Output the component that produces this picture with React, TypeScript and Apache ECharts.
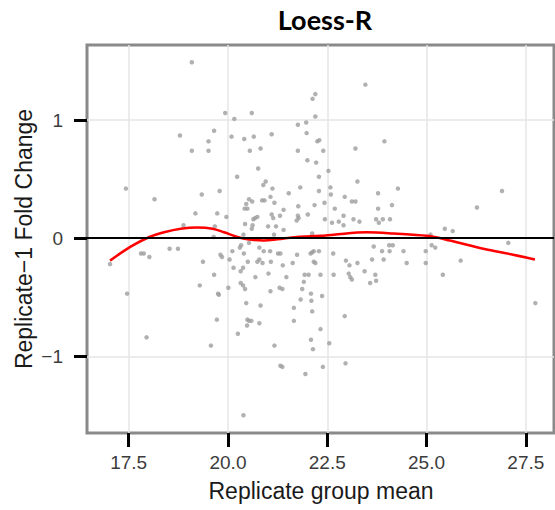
import React, { useEffect, useRef } from "react";
import * as echarts from "echarts";

const chartTitle = "Loess-R";
const xAxisTitle = "Replicate group mean";
const yAxisTitle = "Replicate\u22121 Fold Change";

const xTicks = [17.5, 20, 22.5, 25, 27.5];
const yTicks = [-1, 0, 1];

// scatter points (replicate group mean, fold change)
const pointX = [
  19.09, 19.93, 20.16, 20.6, 19.65, 18.79, 19.51, 19.09, 19.51, 20.09, 20.41, 20.65, 21.1, 20.55, 20.82, 21.76, 21.76,
  20.76, 20.23, 20.95, 20.89, 21.12, 21.82, 21.53, 17.43, 18.15, 19.34, 19.79, 19.18, 19.73, 19.96, 20.46, 20.53, 20.61,
  20.86, 20.92, 21.07, 21.17, 20.42, 20.49, 20.68, 20.74, 20.64, 20.43, 20.62, 20.6, 21.01, 21.1, 21.14, 21.31, 21.4,
  21.21, 21.4, 21.77, 21.76, 21.78, 21.73, 18.88, 19.67, 20.39, 19.64, 21.16,
  23.46, 22.2, 22.13, 22.2, 21.97, 21.98, 23.94, 23.21, 22.25, 22.3, 22.4, 22.0, 22.22, 22.53, 22.29, 23.26, 22.58,
  24.28, 26.9, 22.29, 22.59, 23.78, 22.94, 23.12, 23.21, 22.18, 22.43, 24.13, 23.78, 22.69, 26.27, 22.91, 22.79, 22.91,
  22.62, 22.44, 23.16, 23.31, 23.73, 23.9, 24.08, 23.8, 25.46, 25.66, 22.12, 25.1, 22.01,
  17.03, 17.81, 17.88, 18.02, 18.53, 18.74, 20.33, 20.3, 20.53, 20.11, 20.4, 20.79, 20.9, 21.06, 21.26, 21.32, 21.74,
  19.81, 19.85, 20.04, 19.37, 20.5, 20.74, 20.79, 20.87, 21.08, 21.38, 21.63, 20.14, 20.38, 20.32, 19.65, 20.69, 21.02,
  21.47, 21.93, 17.46, 19.29, 20.01, 20.32, 20.38, 20.43, 19.75, 19.77, 21.07, 21.3, 21.37, 21.87, 21.83, 20.46, 20.82,
  21.66, 19.72, 20.49, 20.53, 20.59, 20.48, 20.79, 21.66, 20.25, 17.95, 19.57, 21.17, 21.32, 21.37, 20.39, 21.91,
  25.13, 25.22, 27.06, 23.67, 24.06, 24.15, 23.88, 24.07, 24.42, 24.98, 22.12, 22.16, 22.29, 22.08, 22.65, 23.63, 23.92,
  22.97, 23.06, 23.26, 24.5, 24.98, 25.86, 22.16, 22.2, 22.03, 22.33, 22.66, 23.04, 23.08, 23.12, 23.44, 23.71, 23.73,
  23.58, 25.41, 22.09, 22.37, 22.1, 22.12, 22.94, 22.33, 22.09, 22.14, 22.55, 22.39, 22.96, 21.95, 27.74,
];
const pointY = [
  1.49, 1.06, 1.01, 1.06, 0.91, 0.87, 0.82, 0.74, 0.74, 0.86, 0.84, 0.86, 0.88, 0.74, 0.76, 0.96, 0.74,
  0.59, 0.52, 0.48, 0.45, 0.42, 0.43, 0.38, 0.42, 0.33, 0.37, 0.4, 0.21, 0.21, 0.18, 0.29, 0.33, 0.31,
  0.32, 0.32, 0.35, 0.3, 0.25, 0.25, 0.17, 0.18, 0.16, 0.12, 0.11, 0.08, 0.1, 0.2, 0.17, 0.19, 0.24,
  0.1, 0.07, 0.27, 0.19, 0.17, 0.15, 0.11, 0.1, 0.03, 0.01, 0.03,
  1.3, 1.22, 1.18, 1.03, 0.98, 0.89, 0.82, 0.76, 0.82, 0.83, 0.74, 0.66, 0.64, 0.57, 0.52, 0.48, 0.43,
  0.42, 0.4, 0.4, 0.37, 0.38, 0.35, 0.31, 0.31, 0.28, 0.3, 0.28, 0.25, 0.25, 0.26, 0.19, 0.14, 0.11,
  0.13, 0.16, 0.16, 0.14, 0.16, 0.16, 0.16, 0.13, 0.08, 0.06, 0.04, 0.03, 0.2,
  -0.22, -0.13, -0.13, -0.16, -0.09, -0.09, -0.06, -0.08, -0.04, -0.11, -0.13, -0.08, -0.11, -0.11, -0.13, -0.13, -0.14,
  -0.14, -0.16, -0.18, -0.2, -0.2, -0.2, -0.18, -0.21, -0.2, -0.23, -0.21, -0.25, -0.25, -0.28, -0.31, -0.33, -0.3,
  -0.33, -0.31, -0.47, -0.4, -0.42, -0.38, -0.4, -0.43, -0.47, -0.48, -0.45, -0.42, -0.43, -0.43, -0.52, -0.55, -0.57,
  -0.59, -0.69, -0.69, -0.7, -0.7, -0.74, -0.72, -0.7, -0.81, -0.84, -0.91, -0.91, -1.08, -1.09, -1.5, -0.37,
  -0.06, -0.08, -0.04, -0.07, -0.06, -0.06, -0.11, -0.11, -0.11, -0.11, -0.12, -0.11, -0.11, -0.13, -0.13, -0.18, -0.18,
  -0.19, -0.23, -0.21, -0.21, -0.21, -0.19, -0.2, -0.21, -0.31, -0.31, -0.31, -0.3, -0.33, -0.35, -0.28, -0.31, -0.36,
  -0.38, -0.31, -0.47, -0.49, -0.53, -0.62, -0.66, -0.77, -0.86, -0.94, -0.89, -1.09, -1.06, -1.15, -0.55,
];

// loess fit
const loessX = [17.03, 17.56, 18.02, 18.39, 18.81, 19.23, 19.61, 19.9, 20.24, 20.49, 20.9, 21.24, 21.74, 22.33, 22.66, 23.5, 24.17, 25.01, 25.59, 26.43, 27.18, 27.73];
const loessY = [-0.19, -0.07, 0.01, 0.05, 0.08, 0.09, 0.08, 0.05, 0.01, -0.01, -0.02, -0.01, 0.01, 0.02, 0.03, 0.05, 0.04, 0.02, -0.02, -0.09, -0.14, -0.18];

const fmtY = (v: number) => (v < 0 ? "\u2212" + Math.abs(v) : String(v));

export default function App() {
  const ref = useRef<HTMLDivElement>(null);
  useEffect(() => {
    if (!ref.current) return;
    const chart = echarts.init(ref.current, undefined, { renderer: "svg" });
    const points = pointX.map((x, i) => [x, pointY[i]]);
    const loess = loessX.map((x, i) => [x, loessY[i]]);
    const labelFont = { fontFamily: "Liberation Sans, Arial, sans-serif", fontSize: 19, color: "#3c3c3c" };
    chart.setOption({
      animation: false,
      grid: {
        left: 87,
        right: 1,
        top: 45,
        bottom: 77,
        show: true,
        borderColor: "#8a8a8a",
        borderWidth: 3,
        backgroundColor: "transparent",
      },
      xAxis: {
        type: "value",
        min: 16.45,
        max: 28.21,
        axisLine: { show: false, onZero: false },
        axisTick: { show: true, customValues: xTicks, length: 14, lineStyle: { color: "#000", width: 3 } },
        axisLabel: { customValues: xTicks, formatter: (v: number) => v.toFixed(1), margin: 20, ...labelFont },
        splitLine: { show: true, lineStyle: { color: "#e6e6e6", width: 1.5 } },
      },
      yAxis: {
        type: "value",
        min: -1.65,
        max: 1.636,
        axisLine: { show: false, onZero: false },
        axisTick: { show: true, customValues: yTicks, length: 13, lineStyle: { color: "#000", width: 3 } },
        axisLabel: { customValues: yTicks, formatter: fmtY, margin: 24, ...labelFont },
        splitLine: { show: true, lineStyle: { color: "#e6e6e6", width: 1.5 } },
      },
      series: [
        {
          type: "scatter",
          data: points,
          symbol: "circle",
          symbolSize: 4.5,
          itemStyle: { color: "#9e9e9e" },
          z: 2,
          markLine: {
            silent: true,
            symbol: "none",
            label: { show: false },
            lineStyle: { color: "#000", width: 1.8, type: "solid" },
            data: [{ yAxis: 0 }],
          },
        },
        {
          type: "line",
          data: loess,
          smooth: 0.35,
          showSymbol: false,
          lineStyle: { color: "#ff0000", width: 2.5 },
          z: 4,
        },
      ],
      graphic: [
        {
          type: "text",
          x: 325,
          y: 19,
          style: {
            text: chartTitle,
            font: "bold 27px Lato, 'Open Sans', sans-serif",
            fill: "#000",
            textAlign: "center",
            textVerticalAlign: "middle",
          },
        },
        {
          type: "text",
          x: 321,
          y: 491,
          style: {
            text: xAxisTitle,
            font: "23px 'Liberation Sans', Arial, sans-serif",
            fill: "#1a1a1a",
            textAlign: "center",
            textVerticalAlign: "middle",
          },
        },
        {
          type: "text",
          x: 24,
          y: 239,
          rotation: Math.PI / 2,
          style: {
            text: yAxisTitle,
            font: "23px 'Liberation Sans', Arial, sans-serif",
            fill: "#1a1a1a",
            textAlign: "center",
            textVerticalAlign: "middle",
          },
        },
      ],
    });
    return () => chart.dispose();
  }, []);
  return <div ref={ref} style={{ position: "absolute", left: 0, top: 0, width: 555, height: 510 }} />;
}
